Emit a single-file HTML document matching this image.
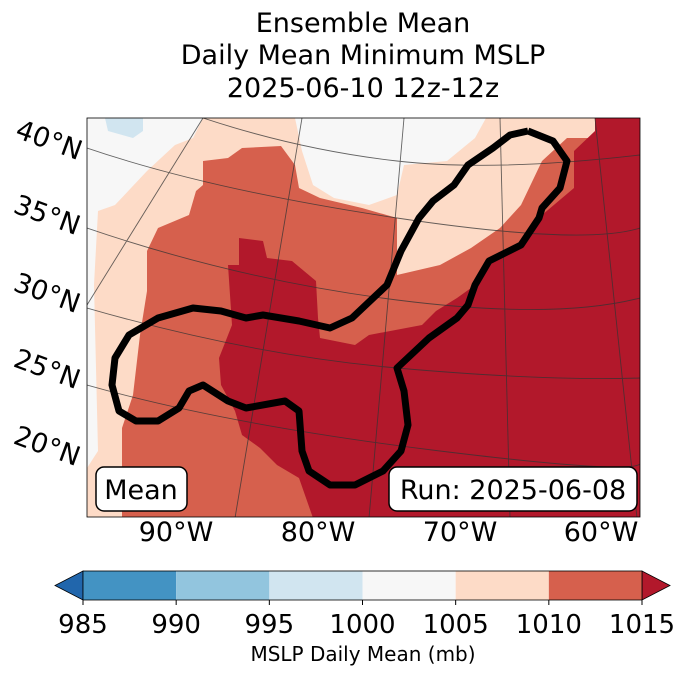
<!DOCTYPE html>
<html><head><meta charset="utf-8"><style>
body{margin:0;background:#fff;}
svg{display:block;font-family:"DejaVu Sans","Liberation Sans",sans-serif;}
</style></head><body>
<svg width="688" height="674" viewBox="0 0 688 674">
<g font-size="27" text-anchor="middle" fill="#000">
<text x="363" y="32">Ensemble Mean</text>
<text x="363" y="64">Daily Mean Minimum MSLP</text>
<text x="363" y="97">2025-06-10 12z-12z</text>
</g>
<defs><clipPath id="mc"><rect x="87" y="118" width="553" height="399"/></clipPath></defs>
<g clip-path="url(#mc)">
<rect x="87" y="118" width="553" height="399" fill="#fddbc7"/>
<polygon fill="#f7f7f7" points="87,118 203,118 193,138 175,145 147,171 115,205 98,211 94,285 98,451 87,468"/>
<polygon fill="#f7f7f7" points="295,118 486,118 475,138 447,161 404,165 397,195 369,205 334,198 313,185 302,151"/>
<polygon fill="#d1e5f0" points="105,118 143,118 143,131 133,138 108,131"/>
<polygon fill="#d6604d" points="242,148 281,146 295,165 299,188 320,198 362,208 397,218 397,275 440,265 471,248 500,228 521,205 542,161 567,138 616,138 616,518 122,518 122,428 133,395 140,335 147,291 147,251 158,228 189,215 196,191 203,185 203,161 228,158"/>
<polygon fill="#b2182b" points="595,118 640,118 640,518 313,518 299,478 277,465 260,448 242,435 235,411 221,385 219,358 232,325 228,265 239,265 239,238 263,241 267,258 292,261 316,281 318,318 320,338 355,345 369,335 422,325 436,311 457,298 471,288 486,265 517,248 542,215 574,188 574,151 595,131"/>
<g stroke="#333" stroke-width="0.9" fill="none" opacity="0.75">
<path d="M203,118 Q300,150 397,161 T640,155"/>
<path d="M87,148 Q210,190 397,218 T640,228"/>
<path d="M87,228 Q239,280 397,300 T640,298"/>
<path d="M87,308 Q250,355 397,368 T640,378"/>
<path d="M87,385 Q228,425 440,451 T640,461"/>
<path d="M203,118 L87,305"/>
<path d="M302,118 L235,518"/>
<path d="M404,118 L369,518"/>
<path d="M500,118 L510,518"/>
<path d="M595,118 L637,518"/>
</g>
<polyline fill="none" stroke="#000" stroke-width="7" stroke-linejoin="round" points="528,131 553,141 567,161 560,188 542,208 539,218 521,245 489,261 475,285 468,305 457,318 429,338 397,368 404,391 408,425 401,451 383,471 355,485 330,485 309,471 302,451 299,411 285,401 246,408 228,401 203,385 189,391 179,408 158,421 136,421 119,411 112,385 115,358 129,335 158,318 193,308 221,311 246,318 263,315 299,321 330,328 352,318 387,285 401,251 419,218 433,201 454,185 468,165 493,148 510,135 528,131"/>
</g>
<rect x="87" y="118" width="553" height="399" fill="none" stroke="#000" stroke-width="0.8"/>
<g font-size="27" fill="#000">
<text transform="translate(14,137) rotate(20)">40°N</text>
<text transform="translate(12,212) rotate(20)">35°N</text>
<text transform="translate(12,290) rotate(20)">30°N</text>
<text transform="translate(12,366) rotate(20)">25°N</text>
<text transform="translate(12,443) rotate(20)">20°N</text>
</g>
<g font-size="27" fill="#000" text-anchor="middle">
<text x="176" y="541">90°W</text>
<text x="318" y="541">80°W</text>
<text x="460" y="541">70°W</text>
<text x="601" y="541">60°W</text>
</g>
<g>
<rect x="96" y="467" width="91" height="44" rx="8" fill="#fff" stroke="#000" stroke-width="1.5"/>
<text x="141" y="499" font-size="27" text-anchor="middle">Mean</text>
</g>
<g>
<rect x="389" y="467" width="248" height="44" rx="8" fill="#fff" stroke="#000" stroke-width="1.5"/>
<text x="513" y="499" font-size="27" text-anchor="middle">Run: 2025-06-08</text>
</g>
<g id="cbar"></g>
<text x="363" y="661" font-size="20" text-anchor="middle">MSLP Daily Mean (mb)</text>
</svg>
<script>
const cbTicks=[985,990,995,1000,1005,1010,1015];
const cbColors=["#4393c3","#92c5de","#d1e5f0","#f7f7f7","#fddbc7","#d6604d"];
const underColor="#2166ac", overColor="#b2182b";
const g=document.getElementById('cbar');
const NS="http://www.w3.org/2000/svg";
const x0=83,x1=642,y0=571,y1=600;
const sx=v=>x0+(v-cbTicks[0])/(cbTicks[cbTicks.length-1]-cbTicks[0])*(x1-x0);
function mk(t,a){const e=document.createElementNS(NS,t);for(const k in a)e.setAttribute(k,a[k]);g.appendChild(e);return e;}
let u=mk('polygon',{points:`${x0},${y0} ${x0},${y1} 55,${(y0+y1)/2}`,fill:underColor,stroke:'#000','stroke-width':0.8});


let o=mk('polygon',{points:`${x1},${y0} ${x1},${y1} 670,${(y0+y1)/2}`,fill:overColor,stroke:'#000','stroke-width':0.8});


for(let i=0;i<cbColors.length;i++){
 const r=mk('rect',{x:sx(cbTicks[i]),y:y0,width:sx(cbTicks[i+1])-sx(cbTicks[i]),height:y1-y0,fill:cbColors[i]});
 
 
}
const fr=mk('rect',{x:x0,y:y0,width:x1-x0,height:y1-y0,fill:'none',stroke:'#000','stroke-width':0.8});


cbTicks.forEach(v=>{
 const t=mk('text',{x:sx(v),y:633,'font-size':26,'text-anchor':'middle'});
 t.textContent=v;
 
 
 const l=mk('line',{x1:sx(v),x2:sx(v),y1:y1,y2:y1+5,stroke:'#000'});
 
 
});
</script>
</body></html>
